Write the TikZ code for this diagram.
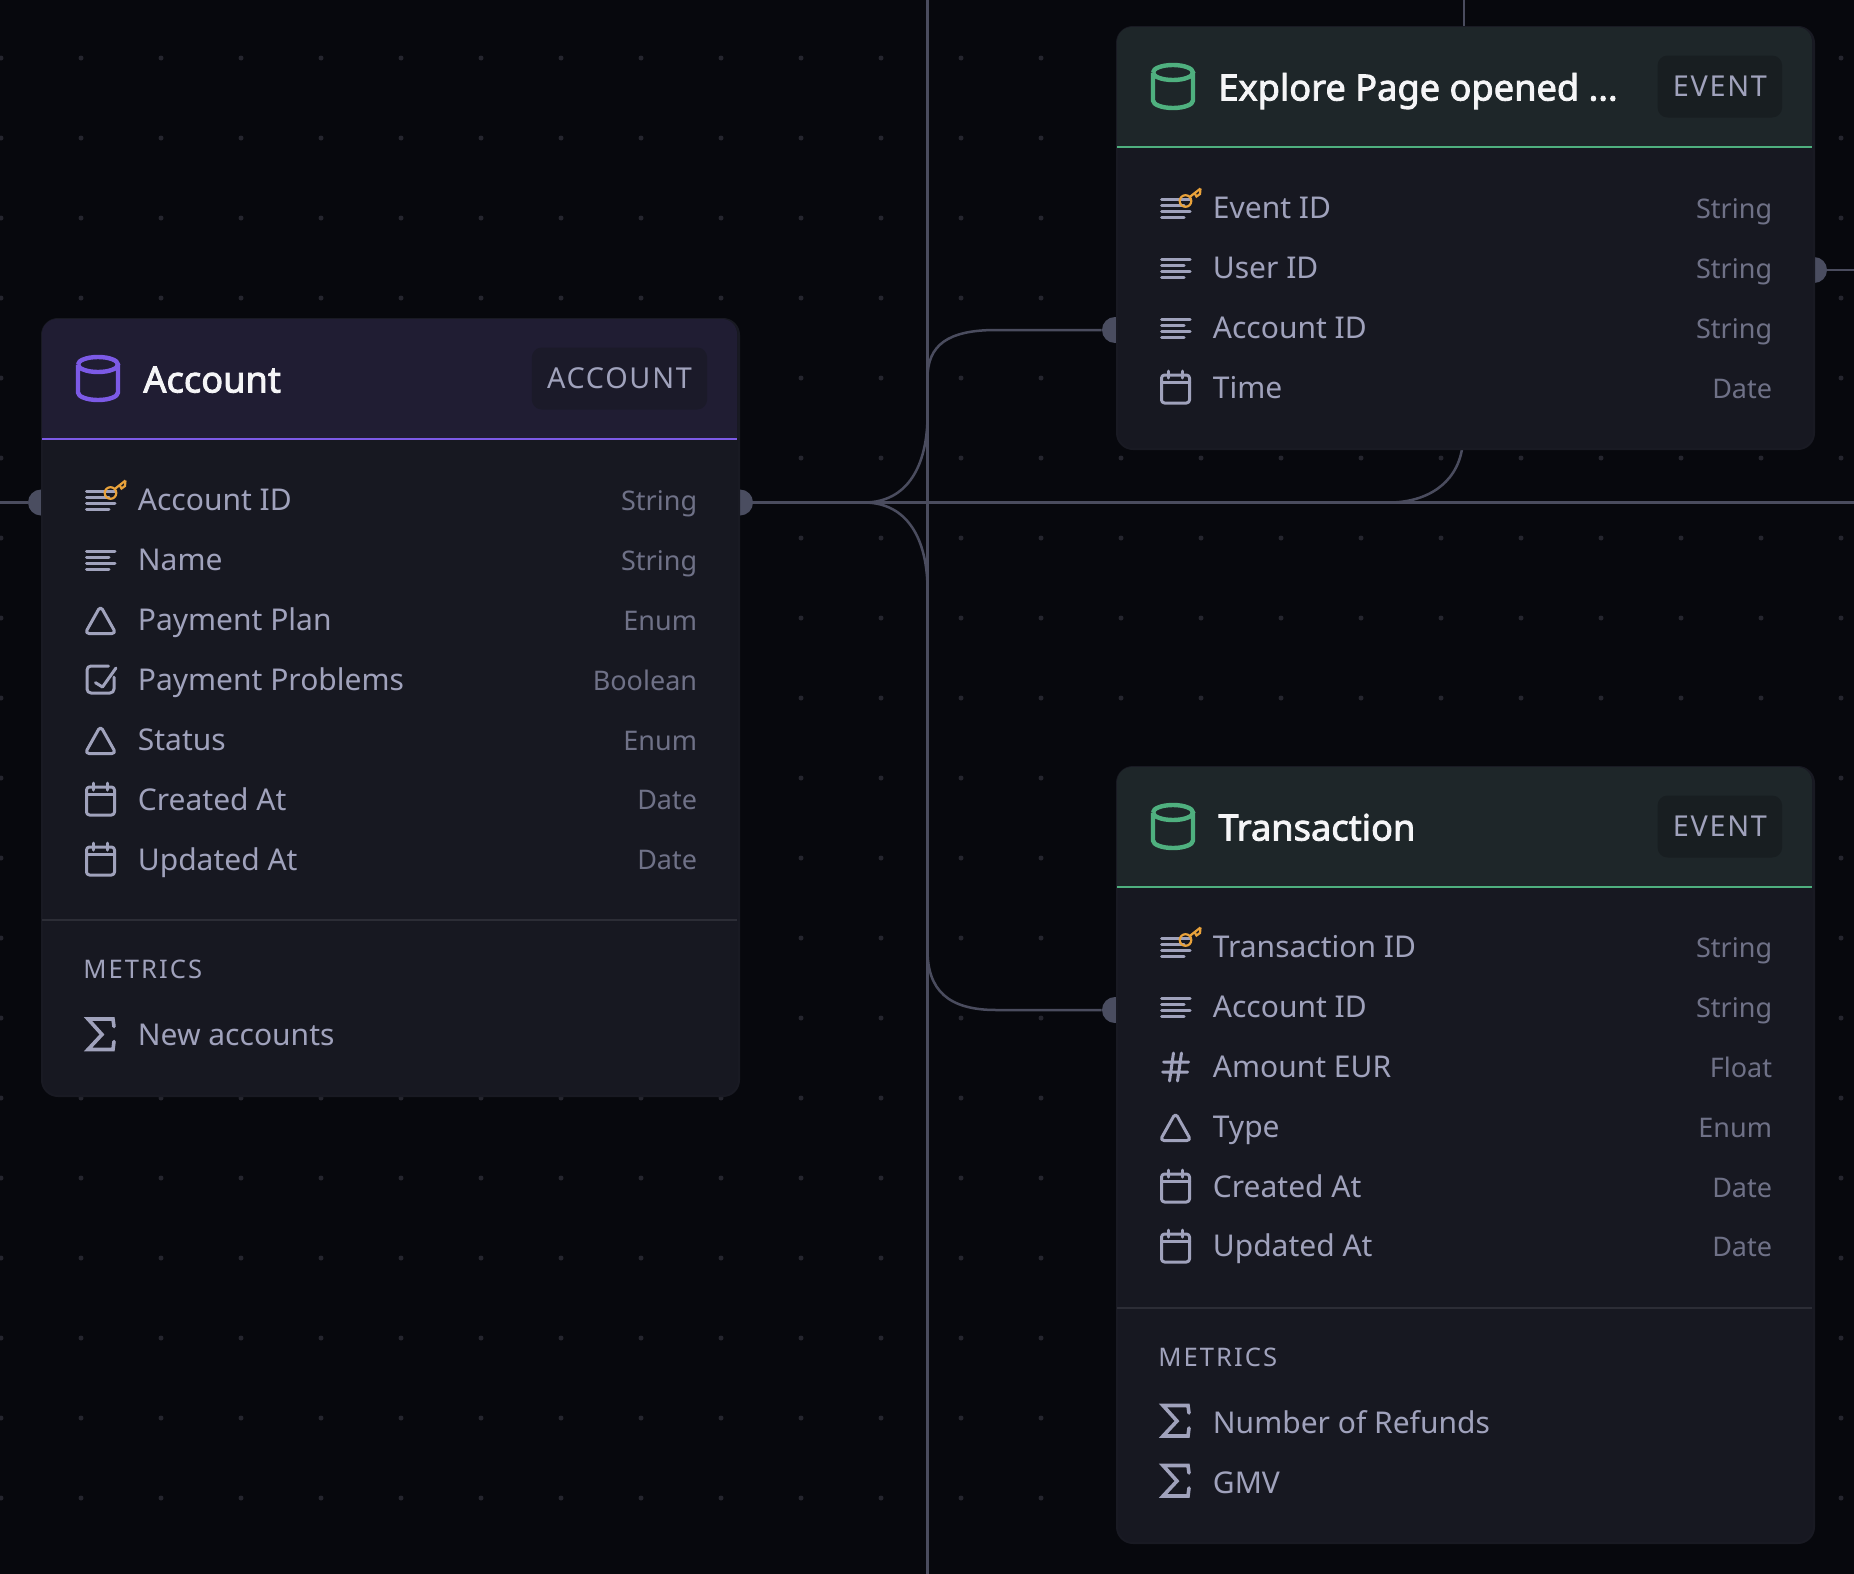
\documentclass[tikz,border=0pt]{standalone}
\usepackage{fontspec}
\setmainfont{Noto Sans}
\newfontfamily\capsfont{Noto Sans}[LetterSpace=6]
\newfontfamily\sectionfont{Noto Sans}[LetterSpace=8]
\newfontfamily\titlefont{Noto Sans}[FakeBold=2.4]
\usepackage{xcolor}
\definecolor{Canvas}{HTML}{07080D}
\definecolor{GridDot}{HTML}{25252E}
\definecolor{CardFill}{HTML}{171821}
\definecolor{CardEdge}{HTML}{191A23}
\definecolor{Divider}{HTML}{2C2D36}
\definecolor{Wire}{HTML}{4A4C5E}
\definecolor{Port}{HTML}{4A4D60}
\definecolor{HeadPurple}{HTML}{201D33}
\definecolor{HeadGreen}{HTML}{1E2629}
\definecolor{BadgePurple}{HTML}{1B1A29}
\definecolor{BadgeGreen}{HTML}{181E21}
\definecolor{Purple}{HTML}{7C5AE6}
\definecolor{Green}{HTML}{4FB07F}
\definecolor{Key}{HTML}{E9A23B}
\definecolor{LabelGrey}{HTML}{A0A2BC}
\definecolor{TypeGrey}{HTML}{6F7187}
\definecolor{TitleWhite}{HTML}{F5F5F7}
\tikzset{
  griddot/.style={fill=GridDot},
  wire/.style={draw=Wire,line width=1.25pt},
  portdot/.style={circle,fill=Port,inner sep=0pt,minimum size=13pt},
  cardbox/.style={anchor=north west,draw=CardEdge,line width=1pt,fill=CardFill,rounded corners=8pt,minimum width=348.5pt,inner sep=0pt},
  cardtitle/.style={anchor=base west,inner sep=0pt,text=TitleWhite,font=\fontsize{18.1}{20}\selectfont\titlefont},
  badge/.style={anchor=east,rounded corners=5pt,minimum height=31pt,inner xsep=7.6pt,inner ysep=0pt,text=LabelGrey,font=\fontsize{14.4}{16}\selectfont\capsfont},
  fieldname/.style={anchor=base west,inner sep=0pt,text=LabelGrey,font=\fontsize{15}{18}\selectfont},
  fieldtype/.style={anchor=base east,inner sep=0pt,text=TypeGrey,font=\fontsize{13.5}{16}\selectfont},
  sectionname/.style={anchor=base west,inner sep=0pt,text=LabelGrey,font=\fontsize{12.8}{14}\selectfont\sectionfont},
  icon/.style={draw=LabelGrey,line width=1.5pt,line cap=round,line join=round},
  textlines/.pic={\foreach \ly/\lx in {-9/14.5,-3/8.5,3/14.5,9/8.5} \draw[icon] (-14,\ly) -- (\lx,\ly);},
  keyed/.pic={\pic {textlines};
    \draw[draw=Key,line width=1.1pt] (10,-7) circle[radius=2.9pt] (14.2,-11) -- (25,-19.5) (19,-15) -- (21,-11.5) -- (24.5,-14) -- (25,-19.5);},
  triangle/.pic={\draw[icon,rounded corners=2pt] (0,-14) -- (15.5,13.5) -- (-15.5,13.5) -- cycle;},
  calendar/.pic={\draw[icon,rounded corners=1.5pt] (-14,-13) rectangle (14,15);
    \draw[icon] (-14,-6) -- (14,-6) (-7,-17) -- (-7,-10) (7,-17) -- (7,-10);},
  hash/.pic={\draw[icon] (-12,-5) -- (13,-5) (-13,5) -- (12,5) (-2,-14) -- (-6,14) (6,-14) -- (2,14);},
  checked/.pic={\draw[icon,rounded corners=2pt] (13.5,-3) -- (13.5,13) -- (-13.5,13) -- (-13.5,-14) -- (8,-14);
    \draw[icon] (-5,2.7) -- (2,7) -- (15.5,-12);},
  sigma/.pic={\draw[icon,line width=1.8pt,line join=miter] (13.5,-8) -- (12.5,-15.5) -- (-12.5,-15.5) -- (1.5,0) -- (-12.5,15) -- (12.5,15) -- (13.5,7);},
  cylinder/.pic={\draw[line width=2.2pt] (-20,-14) arc[start angle=180,end angle=-180,x radius=20,y radius=7.5]
    (-20,-14) -- (-20,14) arc[start angle=180,end angle=0,x radius=20,y radius=7.5] -- (20,-14);}
}
\begin{document}
\begin{tikzpicture}[x=0.5pt,y=-0.5pt]
\useasboundingbox (0,0) rectangle (1854,1574);
\fill[Canvas] (0,0) rectangle (1854,1574);
\foreach \gx in {0,...,23} \foreach \gy in {0,...,18} \fill[griddot] ({1+80*\gx},{58+80*\gy}) circle[radius=1.25pt];
% wires
\coordinate (leftEnd) at (0,502.5);
\coordinate (rightEnd) at (1854,502.5);
\coordinate (split) at (864,502.5);
\coordinate (mergeIn) at (1389,502.5);
\coordinate (exploreTop) at (1464,26);
\coordinate (exploreTopEnd) at (1464,0);
\coordinate (exploreBottom) at (1462,449);
\coordinate (userEnd) at (1854,270);
\coordinate (busTop) at (927.5,0);
\coordinate (busBottom) at (927.5,1574);
\node[portdot] (accountIn) at (41,502.5) {};
\node[portdot] (accountOut) at (740,502.5) {};
\node[portdot] (exploreIn) at (1115,330) {};
\node[portdot] (exploreOut) at (1814,270) {};
\node[portdot] (transactionIn) at (1115,1010) {};
\draw[wire] (leftEnd) -- (accountIn);
\draw[wire] (accountOut) -- (rightEnd);
\draw[wire] (exploreOut) -- (userEnd);
\draw[wire] (busTop) -- (busBottom);
\draw[wire] (exploreTopEnd) -- (exploreTop);
\draw[wire] (exploreBottom) .. controls (1456,485) and (1425,502.5) .. (mergeIn);
\draw[wire] (split) .. controls (908,502.5) and (927.5,465) .. (927.5,415) -- (927.5,378) .. controls (927.5,345) and (948,330) .. (996,330) -- (exploreIn);
\draw[wire] (split) .. controls (908,502.5) and (927.5,540) .. (927.5,590) -- (927.5,950) .. controls (927.5,990) and (948,1010) .. (996,1010) -- (transactionIn);
% account
\begin{scope}[shift={(41,318)}]
\node[cardbox,minimum height=388.5pt] (account) at (0,0) {};
\fill[HeadPurple] (1,121) [rounded corners=7.5pt] -- (1,1) -- (696,1) [sharp corners] -- (696,121) -- cycle;
\draw[Purple,line width=1.4pt] (1,121) -- (696,121);
\pic[color=Purple] at (57,60.5) {cylinder};
\node[cardtitle] (accountTitle) at (102,74.5) {Account};
\node[badge,fill=BadgePurple] (accountBadge) at (666.5,60.5) {ACCOUNT};
\foreach \ic/\lab/\typ [count=\n] in {keyed/Account ID/String,textlines/Name/String,triangle/Payment Plan/Enum,checked/Payment Problems/Boolean,triangle/Status/Enum,calendar/Created At/Date,calendar/Updated At/Date}{
  \pic at (59.5,{122+60*\n}) {\ic};
  \node[fieldname] (accountName\n) at (96.5,{133+59.9*\n}) {\lab};
  \node[fieldtype] (accountType\n) at (656.5,{132.5+59.9*\n}) {\typ};
}
\draw[Divider,line width=1pt] (1,602) -- (696,602);
\node[sectionname] (accountMetrics) at (42,660.5) {METRICS};
\pic at (59.5,716.5) {sigma};
\node[fieldname] (accountMetric1) at (96.5,727.5) {New accounts};
\end{scope}
% explore page
\begin{scope}[shift={(1116,26)}]
\node[cardbox,minimum height=211pt] (explore) at (0,0) {};
\fill[HeadGreen] (1,121) [rounded corners=7.5pt] -- (1,1) -- (696,1) [sharp corners] -- (696,121) -- cycle;
\draw[Green,line width=1.4pt] (1,121) -- (696,121);
\pic[color=Green] at (57,60.5) {cylinder};
\node[cardtitle] (exploreTitle) at (102,74.5) {Explore Page opened ...};
\node[badge,fill=BadgeGreen] (exploreBadge) at (666.5,60.5) {EVENT};
\foreach \ic/\lab/\typ [count=\n] in {keyed/Event ID/String,textlines/User ID/String,textlines/Account ID/String,calendar/Time/Date}{
  \pic at (59.5,{122+60*\n}) {\ic};
  \node[fieldname] (exploreName\n) at (96.5,{133+59.9*\n}) {\lab};
  \node[fieldtype] (exploreType\n) at (656.5,{132.5+59.9*\n}) {\typ};
}
\end{scope}
% transaction
\begin{scope}[shift={(1116,766)}]
\node[cardbox,minimum height=388pt] (transaction) at (0,0) {};
\fill[HeadGreen] (1,121) [rounded corners=7.5pt] -- (1,1) -- (696,1) [sharp corners] -- (696,121) -- cycle;
\draw[Green,line width=1.4pt] (1,121) -- (696,121);
\pic[color=Green] at (57,60.5) {cylinder};
\node[cardtitle] (transactionTitle) at (102,74.5) {Transaction};
\node[badge,fill=BadgeGreen] (transactionBadge) at (666.5,60.5) {EVENT};
\foreach \ic/\lab/\typ [count=\n] in {keyed/Transaction ID/String,textlines/Account ID/String,hash/Amount EUR/Float,triangle/Type/Enum,calendar/Created At/Date,calendar/Updated At/Date}{
  \pic at (59.5,{121+60*\n}) {\ic};
  \node[fieldname] (transactionName\n) at (96.5,{131.5+59.9*\n}) {\lab};
  \node[fieldtype] (transactionType\n) at (656.5,{131.5+59.9*\n}) {\typ};
}
\draw[Divider,line width=1pt] (1,542) -- (696,542);
\node[sectionname] (transactionMetrics) at (42,600) {METRICS};
\pic at (59.5,655) {sigma};
\node[fieldname] (transactionMetric1) at (96.5,667) {Number of Refunds};
\pic at (59.5,715) {sigma};
\node[fieldname] (transactionMetric2) at (96.5,727) {GMV};
\end{scope}
\end{tikzpicture}
\end{document}
